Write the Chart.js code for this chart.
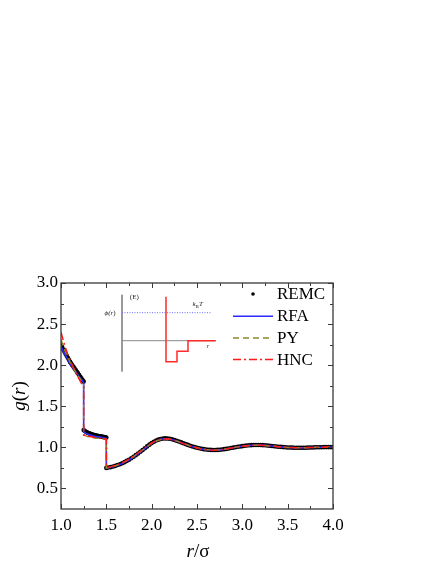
<!DOCTYPE html>
<html>
<head>
<meta charset="utf-8">
<script src="https://cdn.jsdelivr.net/npm/chart.js@4.4.1/dist/chart.umd.min.js"></script>
<style>
  html, body { margin: 0; padding: 0; background: #fff; }
  canvas { display: block; }
</style>
</head>
<body>
<canvas id="grChart" width="436" height="564"></canvas>
<script>
// ---- data ----
// REMC simulation points (dense grid)
const rMc = [
  1.0, 1.0125, 1.025, 1.0375, 1.05, 1.0625, 1.075, 1.0875, 1.1, 1.1125,
  1.125, 1.1375, 1.15, 1.1625, 1.175, 1.1875, 1.2, 1.2125, 1.225, 1.2375, 1.25,
  1.25, 1.2625, 1.275, 1.2875, 1.3, 1.3125, 1.325, 1.3375, 1.35, 1.3625,
  1.375, 1.3875, 1.4, 1.4125, 1.425, 1.4375, 1.45, 1.4625, 1.475, 1.4875, 1.5,
  1.5, 1.525, 1.55, 1.575, 1.6, 1.625, 1.65, 1.675, 1.7, 1.725,
  1.75, 1.775, 1.8, 1.825, 1.85, 1.875, 1.9, 1.925, 1.95, 1.975,
  2.0, 2.025, 2.05, 2.075, 2.1, 2.125, 2.15, 2.175, 2.2, 2.225,
  2.25, 2.275, 2.3, 2.325, 2.35, 2.375, 2.4, 2.425, 2.45, 2.475,
  2.5, 2.525, 2.55, 2.575, 2.6, 2.625, 2.65, 2.675, 2.7, 2.725,
  2.75, 2.775, 2.8, 2.825, 2.85, 2.875, 2.9, 2.925, 2.95, 2.975,
  3.0, 3.025, 3.05, 3.075, 3.1, 3.125, 3.15, 3.175, 3.2, 3.225,
  3.25, 3.275, 3.3, 3.325, 3.35, 3.375, 3.4, 3.425, 3.45, 3.475,
  3.5, 3.525, 3.55, 3.575, 3.6, 3.625, 3.65, 3.675, 3.7, 3.725,
  3.75, 3.775, 3.8, 3.825, 3.85, 3.875, 3.9, 3.925, 3.95, 3.975,
  4.0
];
const gMc = [
  2.25, 2.22, 2.19, 2.165, 2.14, 2.115, 2.09, 2.065, 2.04, 2.02,
  2.0, 1.98, 1.96, 1.94, 1.92, 1.9, 1.88, 1.86, 1.84, 1.82, 1.8,
  1.21, 1.2, 1.19, 1.182, 1.175, 1.17, 1.165, 1.16, 1.155, 1.151,
  1.148, 1.145, 1.142, 1.139, 1.136, 1.133, 1.131, 1.128, 1.126, 1.123, 1.12,
  0.75, 0.755, 0.76, 0.768, 0.775, 0.785, 0.795, 0.807, 0.82, 0.835,
  0.85, 0.867, 0.885, 0.905, 0.925, 0.946, 0.967, 0.99, 1.012, 1.033,
  1.052, 1.069, 1.083, 1.094, 1.102, 1.107, 1.109, 1.108, 1.104, 1.098,
  1.09, 1.081, 1.071, 1.061, 1.05, 1.04, 1.03, 1.02, 1.011, 1.003,
  0.996, 0.989, 0.983, 0.978, 0.974, 0.971, 0.969, 0.968, 0.968, 0.969,
  0.971, 0.974, 0.978, 0.982, 0.987, 0.992, 0.997, 1.002, 1.007, 1.011,
  1.015, 1.019, 1.022, 1.025, 1.027, 1.028, 1.029, 1.029, 1.028, 1.027,
  1.025, 1.023, 1.02, 1.017, 1.014, 1.011, 1.008, 1.006, 1.003, 1.001,
  0.999, 0.998, 0.997, 0.996, 0.995, 0.995, 0.995, 0.996, 0.996, 0.997,
  0.998, 0.999, 1.0, 1.001, 1.002, 1.002, 1.003, 1.003, 1.003, 1.003,
  1.003
];

// theory curves
const rTh = [
  1.0, 1.025, 1.05, 1.075, 1.1, 1.125, 1.15, 1.175, 1.2, 1.225, 1.25,
  1.25, 1.275, 1.3, 1.325, 1.35, 1.375, 1.4, 1.425, 1.45, 1.475, 1.5,
  1.5, 1.55, 1.6, 1.65, 1.7, 1.75, 1.8, 1.85, 1.9, 1.95,
  2.0, 2.05, 2.1, 2.15, 2.2, 2.25, 2.3, 2.35, 2.4, 2.45,
  2.5, 2.55, 2.6, 2.65, 2.7, 2.75, 2.8, 2.85, 2.9, 2.95,
  3.0, 3.05, 3.1, 3.15, 3.2, 3.25, 3.3, 3.35, 3.4, 3.45,
  3.5, 3.55, 3.6, 3.65, 3.7, 3.75, 3.8, 3.85, 3.9, 3.95,
  4.0
];
const gRFA = [
  2.23, 2.17, 2.12, 2.07, 2.02, 1.98, 1.94, 1.9, 1.86, 1.83, 1.79,
  1.19, 1.17, 1.16, 1.15, 1.14, 1.135, 1.13, 1.125, 1.12, 1.115, 1.11,
  0.745, 0.757, 0.772, 0.792, 0.817, 0.847, 0.882, 0.922, 0.964, 1.008,
  1.048, 1.079, 1.098, 1.105, 1.101, 1.087, 1.068, 1.047, 1.027, 1.009,
  0.994, 0.982, 0.973, 0.968, 0.967, 0.97, 0.977, 0.986, 0.996, 1.006,
  1.014, 1.021, 1.026, 1.028, 1.027, 1.024, 1.019, 1.013, 1.008, 1.003,
  0.999, 0.997, 0.995, 0.995, 0.996, 0.998, 1.0, 1.001, 1.002, 1.003,
  1.003
];
const gPY = [
  2.31, 2.23, 2.16, 2.1, 2.04, 1.99, 1.94, 1.89, 1.85, 1.81, 1.76,
  1.15, 1.14, 1.13, 1.125, 1.12, 1.115, 1.11, 1.11, 1.105, 1.1, 1.1,
  0.748, 0.76, 0.776, 0.797, 0.823, 0.853, 0.888, 0.927, 0.968, 1.01,
  1.048, 1.078, 1.096, 1.103, 1.099, 1.086, 1.068, 1.048, 1.028, 1.01,
  0.995, 0.983, 0.974, 0.969, 0.968, 0.971, 0.978, 0.987, 0.997, 1.006,
  1.014, 1.021, 1.025, 1.027, 1.026, 1.023, 1.018, 1.013, 1.008, 1.003,
  0.999, 0.997, 0.995, 0.995, 0.996, 0.998, 1.0, 1.001, 1.002, 1.003,
  1.003
];
const gHNC = [
  2.4, 2.3, 2.21, 2.13, 2.06, 2.0, 1.94, 1.88, 1.83, 1.78, 1.74,
  1.15, 1.14, 1.135, 1.13, 1.125, 1.12, 1.115, 1.11, 1.11, 1.105, 1.1,
  0.752, 0.764, 0.78, 0.8, 0.826, 0.857, 0.892, 0.932, 0.973, 1.015,
  1.053, 1.082, 1.099, 1.105, 1.1, 1.086, 1.067, 1.046, 1.026, 1.008,
  0.993, 0.981, 0.972, 0.967, 0.966, 0.97, 0.977, 0.986, 0.996, 1.006,
  1.014, 1.021, 1.026, 1.028, 1.027, 1.024, 1.019, 1.013, 1.008, 1.003,
  0.999, 0.997, 0.995, 0.995, 0.996, 0.998, 1.0, 1.001, 1.002, 1.003,
  1.003
];

const xTicks = [1.0, 1.5, 2.0, 2.5, 3.0, 3.5, 4.0];
const xMinor = [1.25, 1.75, 2.25, 2.75, 3.25, 3.75];
const yTicks = [0.5, 1.0, 1.5, 2.0, 2.5, 3.0];
const yMinor = [0.75, 1.25, 1.75, 2.25, 2.75];

// inset: step potential phi(r) in units of kBT
const potR = [1.0, 1.0, 1.25, 1.25, 1.5, 1.5, 2.13];
const potPhi = [1.57, -0.75, -0.75, -0.375, -0.375, 0, 0];
const kTR = [0, 2.02];
const kTPhi = [1, 1];

const legendNames = ['REMC', 'RFA', 'PY', 'HNC'];

const SERIF = "'Liberation Serif', 'Times New Roman', serif";
Chart.defaults.font.family = SERIF;
Chart.defaults.color = '#000';

const pts = (xs, ys) => xs.map((x, i) => ({ x: x, y: ys[i] }));

// inward ticks on all four sides plus the frame
const frameTicks = {
  id: 'frameTicks',
  afterDatasetsDraw(chart) {
    const { ctx, chartArea: a, scales } = chart;
    const xs = scales.x, ys = scales.y;
    ctx.save();
    ctx.strokeStyle = '#3a3a3a';
    ctx.lineWidth = 1.3;
    ctx.strokeRect(a.left, a.top, a.right - a.left, a.bottom - a.top);
    ctx.lineWidth = 1;
    ctx.beginPath();
    const tx = (v, len) => {
      const p = Math.round(xs.getPixelForValue(v)) + 0.5;
      ctx.moveTo(p, a.bottom); ctx.lineTo(p, a.bottom - len);
      ctx.moveTo(p, a.top); ctx.lineTo(p, a.top + len);
    };
    const ty = (v, len) => {
      const p = Math.round(ys.getPixelForValue(v)) + 0.5;
      ctx.moveTo(a.left, p); ctx.lineTo(a.left + len, p);
      ctx.moveTo(a.right, p); ctx.lineTo(a.right - len, p);
    };
    xTicks.forEach(v => tx(v, 5));
    xMinor.forEach(v => tx(v, 3));
    yTicks.forEach(v => ty(v, 5));
    yMinor.forEach(v => ty(v, 3));
    ctx.stroke();
    ctx.restore();
  }
};

// text runs: [text, font, baseline shift]
function drawRuns(ctx, runs, x, y) {
  let cx = x;
  runs.forEach(([txt, style, dy]) => {
    ctx.font = style;
    ctx.fillText(txt, cx, y + (dy || 0));
    cx += ctx.measureText(txt).width;
  });
  return cx - x;
}
function runsWidth(ctx, runs) {
  let w = 0;
  runs.forEach(([txt, style]) => { ctx.font = style; w += ctx.measureText(txt).width; });
  return w;
}

const axisTitles = {
  id: 'axisTitles',
  afterDraw(chart) {
    const { ctx, chartArea: a } = chart;
    ctx.save();
    ctx.fillStyle = '#000';
    ctx.textBaseline = 'middle';
    const it = 'italic 19px ' + SERIF, rm = '19px ' + SERIF;
    // x title
    const xr = [['r', it], ['/\u03C3', rm]];
    const xw = runsWidth(ctx, xr);
    drawRuns(ctx, xr, (a.left + a.right) / 2 - xw / 2 + 1, 552);
    // y title
    const yr = [['g', it], ['(', rm], ['r', it], [')', rm]];
    const yw = runsWidth(ctx, yr);
    ctx.translate(20, (a.top + a.bottom) / 2);
    ctx.rotate(-Math.PI / 2);
    drawRuns(ctx, yr, -yw / 2, 0);
    ctx.restore();
  }
};

// legend inside the plot
const innerLegend = {
  id: 'innerLegend',
  afterDatasetsDraw(chart) {
    const ctx = chart.ctx;
    ctx.save();
    ctx.textBaseline = 'middle';
    ctx.font = '17px ' + SERIF;
    ctx.fillStyle = '#000';
    legendNames.forEach((name, i) => {
      const ds = chart.data.datasets[i];
      const y = 294 + i * 21.7;
      if (ds.showLine === false) {
        ctx.beginPath();
        ctx.arc(253, y, 1.8, 0, Math.PI * 2);
        ctx.fillStyle = ds.pointBackgroundColor;
        ctx.fill();
      } else {
        ctx.beginPath();
        ctx.strokeStyle = ds.borderColor;
        ctx.lineWidth = ds.borderWidth;
        ctx.setLineDash(ds.borderDash || []);
        ctx.moveTo(233, y + 0.5);
        ctx.lineTo(273, y + 0.5);
        ctx.stroke();
        ctx.setLineDash([]);
      }
      ctx.fillStyle = '#000';
      ctx.fillText(name, 277, y + 1);
    });
    ctx.restore();
  }
};

// small text labels of the inset, placed in inset coordinates
const insetLabels = [
  { r: -0.27, phi: 1.0, runs: [['\u03D5(', 'italic 7px '], ['r', 'italic 7px '], [')', '7px ']] },
  { r: 0.28, phi: 1.56, runs: [['(E)', '7px ']] },
  { r: 1.72, phi: 1.3, runs: [['k', 'italic 7px '], ['B', '5px ', 2], ['T', 'italic 7px ']] },
  { r: 1.95, phi: -0.22, runs: [['r', 'italic 6px ']] }
];
const insetText = {
  id: 'insetText',
  afterDatasetsDraw(chart) {
    const ctx = chart.ctx, xs = chart.scales.xi, ys = chart.scales.yi;
    ctx.save();
    ctx.fillStyle = '#222';
    ctx.textBaseline = 'middle';
    insetLabels.forEach(l => {
      const runs = l.runs.map(([t, f, dy]) => [t, f + SERIF, dy]);
      const w = runsWidth(ctx, runs);
      drawRuns(ctx, runs, xs.getPixelForValue(l.r) - w / 2, ys.getPixelForValue(l.phi));
    });
    ctx.restore();
  }
};

new Chart(document.getElementById('grChart'), {
  type: 'line',
  data: {
    datasets: [
      {
        label: 'REMC',
        data: pts(rMc, gMc),
        showLine: false,
        pointRadius: 2.3,
        pointBorderWidth: 0,
        pointBackgroundColor: '#000',
        order: 5
      },
      {
        label: 'RFA',
        data: pts(rTh, gRFA),
        borderColor: '#2b2bff',
        borderWidth: 1.6,
        pointRadius: 0,
        order: 4
      },
      {
        label: 'PY',
        data: pts(rTh, gPY),
        borderColor: '#8a8a2a',
        borderWidth: 1.5,
        borderDash: [6, 4],
        pointRadius: 0,
        order: 3
      },
      {
        label: 'HNC',
        data: pts(rTh, gHNC),
        borderColor: '#ff1a1a',
        borderWidth: 1.5,
        borderDash: [8, 3, 2, 3],
        pointRadius: 0,
        order: 2
      },
      // inset axes
      {
        label: 'inset-v',
        data: pts([0, 0], [1.64, -1.1]),
        xAxisID: 'xi', yAxisID: 'yi',
        borderColor: '#8a8a8a', borderWidth: 1, pointRadius: 0, order: 9
      },
      {
        label: 'inset-h',
        data: pts([0, 2.13], [0, 0]),
        xAxisID: 'xi', yAxisID: 'yi',
        borderColor: '#8a8a8a', borderWidth: 1, pointRadius: 0, order: 9
      },
      {
        label: 'kBT',
        data: pts(kTR, kTPhi),
        xAxisID: 'xi', yAxisID: 'yi',
        borderColor: '#6a6aff', borderWidth: 1, borderDash: [1, 1.5], pointRadius: 0, order: 8
      },
      {
        label: 'phi',
        data: pts(potR, potPhi),
        xAxisID: 'xi', yAxisID: 'yi',
        borderColor: '#ff2a2a', borderWidth: 1.5, pointRadius: 0, order: 7
      }
    ]
  },
  options: {
    responsive: false,
    animation: false,
    layout: { padding: { top: 283, right: 103, left: 0, bottom: 0 } },
    plugins: { legend: { display: false }, tooltip: { enabled: false } },
    elements: { line: { tension: 0 } },
    scales: {
      x: {
        type: 'linear',
        min: 1, max: 4,
        grid: { display: false, drawTicks: false },
        border: { display: false },
        afterBuildTicks: s => { s.ticks = xTicks.map(v => ({ value: v })); },
        afterFit: s => { s.height = 55; },
        ticks: {
          padding: 6,
          font: { size: 17 },
          color: '#000',
          callback: v => v.toFixed(1)
        }
      },
      y: {
        type: 'linear',
        min: 0.25, max: 3.0,
        grid: { display: false, drawTicks: false },
        border: { display: false },
        afterBuildTicks: s => { s.ticks = yTicks.map(v => ({ value: v })); },
        afterFit: s => { s.width = 61; },
        ticks: {
          padding: 3,
          font: { size: 17 },
          color: '#000',
          callback: v => v.toFixed(1)
        }
      },
      xi: { type: 'linear', display: false, min: -1.386, max: 4.795 },
      yi: { type: 'linear', display: false, min: -6.01, max: 2.06 }
    }
  },
  plugins: [frameTicks, innerLegend, insetText, axisTitles]
});
</script>
</body>
</html>
